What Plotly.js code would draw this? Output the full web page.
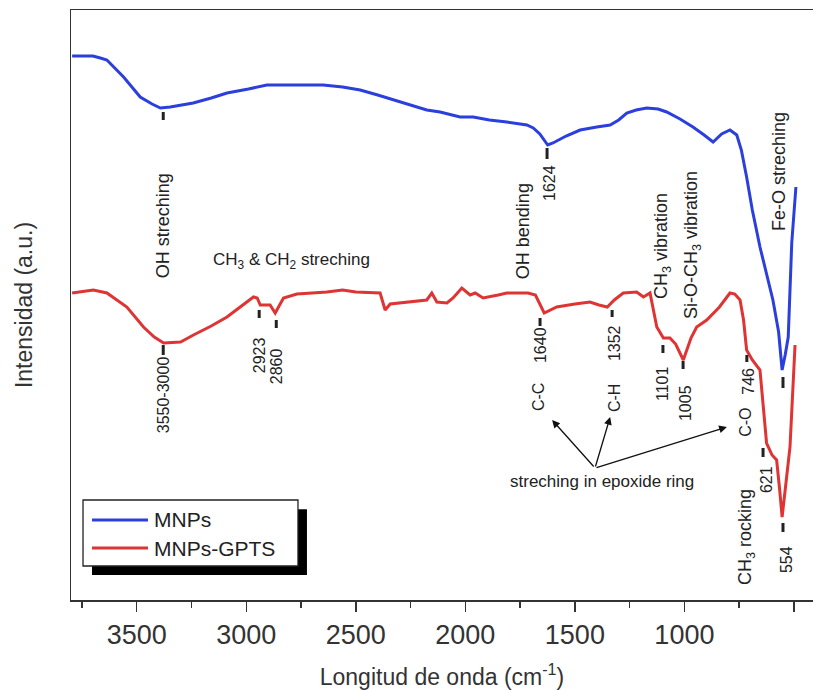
<!DOCTYPE html>
<html>
<head>
<meta charset="utf-8">
<script src="https://cdn.plot.ly/plotly-3.0.1.min.js"></script>
<style>html,body{margin:0;padding:0;background:#fff;}#chart{width:813px;height:690px;}</style>
</head>
<body>
<div id="chart"></div>
<script>
// Wavenumber (cm-1) and intensity (a.u.)
const mnpsWavenumber = [3795,3700,3666,3636,3560,3484,3430,3392,3347,3242,3160,3088,2990,2906,2800,2649,2560,2480,2400,2329,2250,2176,2115,2024,1964,1890,1811,1719,1690,1660,1624,1600,1540,1476,1400,1339,1300,1263,1220,1172,1120,1081,1020,961,910,869,830,792,761,740,716,690,655,620,596,570,554,540,526,510,491];
const mnpsIntensity  = [544,544,542,540,523,503,496,492,493,497,502,507,511,515,515,515,513,510,505,500,495,490,488,483,483,480,478,475,472,466,455,457,464,470,473,475,480,487,490,492,491,488,481,473,465,458,466,470,465,450,423,390,353,323,300,268,230,245,263,357,413];

const gptsWavenumber = [3795,3698,3636,3590,3545,3469,3420,3377,3300,3241,3160,3088,3020,2967,2950,2936,2891,2868,2830,2769,2700,2632,2560,2500,2389,2366,2343,2250,2176,2153,2130,2084,2056,2016,1978,1955,1919,1850,1811,1714,1680,1640,1583,1500,1431,1390,1352,1320,1279,1218,1187,1157,1126,1096,1066,1040,1005,970,944,898,840,792,770,746,730,716,690,655,640,625,600,579,565,554,540,518,495];
const gptsIntensity  = [307,310,307,300,293,273,263,257,258,265,274,283,294,303,302,295,295,287,302,306,307,308,310,308,307,290,296,298,300,307,298,297,302,312,305,307,302,305,307,307,305,287,293,296,298,295,293,300,307,308,303,307,273,262,262,256,240,262,273,280,293,307,306,300,280,250,240,230,190,157,145,140,110,83,110,153,255];

const seriesNames = ['MNPs', 'MNPs-GPTS'];
const seriesColors = ['#2b3fdc', '#de3434'];

const xTickValues = [3500,3000,2500,2000,1500,1000,500];
const xTickLabels = ['3500','3000','2500','2000','1500','1000','500'];

// Band labels: text, wavenumber, intensity, font size
const rotatedLabels = [
  ['OH streching', 3379, 374, 18],
  ['3550-3000', 3379, 205, 16],
  ['2923', 2941, 245, 16],
  ['2860', 2863, 234, 16],
  ['OH bending', 1736, 369, 18],
  ['1624', 1618, 417, 16],
  ['1640', 1659, 255, 16],
  ['C-C', 1668, 203, 16],
  ['1352', 1321, 257, 16],
  ['C-H', 1321, 202, 16],
  ['CH<sub>3</sub> vibration', 1102, 354, 18],
  ['Si-O-CH<sub>3</sub> vibration', 965, 355, 18],
  ['1101', 1102, 216, 16],
  ['1005', 997, 197, 16],
  ['746', 711, 219, 16],
  ['C-O', 724, 178, 16],
  ['621', 627, 120, 16],
  ['CH<sub>3</sub> rocking', 719, 63, 18],
  ['554', 536, 40, 16],
  ['Fe-O streching', 568, 428, 18]
];
const flatLabels = [
  ['CH<sub>3</sub> &amp; CH<sub>2</sub> streching', 2795, 339],
  ['streching in epoxide ring', 1376, 119]
];
// Band marker dashes: wavenumber, intensity top, intensity bottom
const bandMarks = [
  [3379,488,480],[1627,452,441],[550,223,212],
  [3379,255,245],[2941,290,282],[2863,280,272],[1659,282,274],[1330,290,283],
  [1098,255,247],[1006,239,231],[715,245,238],[641,152,143],[550,77,68]
];
// Arrows from the epoxide label to C-C, C-H, C-O
const arrowTail = [1408, 132];
const arrowHeads = [[1604,180],[1339,183],[806,173]];

const fontFam = 'Liberation Sans, Arial, sans-serif';
const narrowFam = 'Liberation Sans Narrow, Arial Narrow, Liberation Sans, Arial, sans-serif';

const traces = [
  {x: mnpsWavenumber, y: mnpsIntensity, name: seriesNames[0], mode: 'lines', line: {color: seriesColors[0], width: 3}, showlegend: false},
  {x: gptsWavenumber, y: gptsIntensity, name: seriesNames[1], mode: 'lines', line: {color: seriesColors[1], width: 3}, showlegend: false}
];

const annotations = [];
rotatedLabels.forEach(l => annotations.push({
  x: l[1], y: l[2], xref: 'x', yref: 'y', text: l[0], showarrow: false, textangle: -90,
  font: {family: fontFam, size: l[3], color: '#222'}
}));
flatLabels.forEach(l => annotations.push({
  x: l[1], y: l[2], xref: 'x', yref: 'y', text: l[0], showarrow: false,
  font: {family: fontFam, size: 17, color: '#222'}
}));
arrowHeads.forEach(h => annotations.push({
  x: h[0], y: h[1], ax: arrowTail[0], ay: arrowTail[1], xref: 'x', yref: 'y', axref: 'x', ayref: 'y',
  text: '', showarrow: true, arrowhead: 2, arrowsize: 1.2, arrowwidth: 1.3, arrowcolor: '#111'
}));

// Legend (drawn manually to match the boxed style with drop shadow)
const legY = [0.1356, 0.0881];
seriesNames.forEach((n, i) => annotations.push({
  x: 0.1092, y: legY[i], xref: 'paper', yref: 'paper', xanchor: 'left', yanchor: 'middle',
  text: n, showarrow: false, font: {family: fontFam, size: 21, color: '#222'}
}));

const shapes = [];
bandMarks.forEach(m => shapes.push({
  type: 'line', xref: 'x', yref: 'y', x0: m[0], x1: m[0], y0: m[1], y1: m[2],
  line: {color: '#222', width: 3}
}));
shapes.push({type: 'rect', xref: 'paper', yref: 'paper', x0: 0.0283, x1: 0.318, y0: 0.0424, y1: 0.154,
  fillcolor: '#000', line: {width: 0}});
shapes.push({type: 'rect', xref: 'paper', yref: 'paper', x0: 0.0162, x1: 0.3059, y0: 0.0576, y1: 0.1695,
  fillcolor: '#fff', line: {color: '#222', width: 1.3}});
seriesColors.forEach((c, i) => shapes.push({
  type: 'line', xref: 'paper', yref: 'paper', x0: 0.0283, x1: 0.1038, y0: legY[i], y1: legY[i],
  line: {color: c, width: 3}
}));

const layout = {
  width: 813, height: 690,
  margin: {l: 71, r: 0, t: 10, b: 90},
  paper_bgcolor: '#fff', plot_bgcolor: '#fff',
  showlegend: false,
  xaxis: {
    range: [3800, 413], showgrid: false, zeroline: false,
    showline: true, linecolor: '#333', linewidth: 1.5, mirror: true,
    ticks: 'outside', ticklen: 10, tickwidth: 1.5, tickcolor: '#333',
    tickvals: xTickValues, ticktext: xTickLabels,
    minor: {dtick: 250, tick0: 500, ticks: 'outside', ticklen: 6, tickwidth: 1.5, tickcolor: '#333'},
    tickfont: {family: narrowFam, size: 27, color: '#333'},
    title: {text: 'Longitud de onda (cm<sup>-1</sup>)', font: {family: fontFam, size: 23, color: '#333'}, standoff: 22}
  },
  yaxis: {
    range: [0, 590], showgrid: false, zeroline: false,
    showline: true, linecolor: '#333', linewidth: 1.5, mirror: false,
    ticks: '', showticklabels: false,
    title: {text: 'Intensidad (a.u.)', font: {family: fontFam, size: 23, color: '#333'}, standoff: 30}
  },
  annotations: annotations,
  shapes: shapes
};

Plotly.newPlot('chart', traces, layout, {displayModeBar: false, staticPlot: true});
</script>
</body>
</html>
